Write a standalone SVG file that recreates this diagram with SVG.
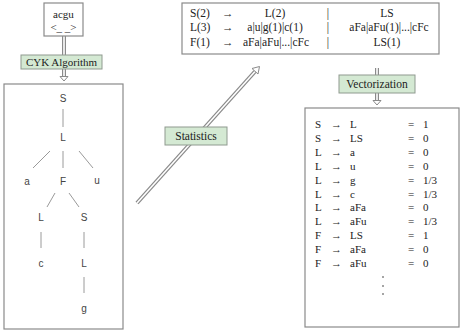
<svg xmlns="http://www.w3.org/2000/svg" width="463" height="334" viewBox="0 0 463 334">
<style>
.box{fill:#fff;stroke:#8a8a8a;stroke-width:1.2}
.lab{fill:#d4e9d3;stroke:#8f9a8f;stroke-width:1}
.t{font-family:"Liberation Serif","Times New Roman",serif;font-size:11px;fill:#222}
.tr{font-family:"Liberation Sans",Arial,sans-serif;font-size:10px;fill:#444;text-anchor:middle}
.m{text-anchor:middle}
.edge{stroke:#9a9a9a;stroke-width:1}
.outer{fill:none;stroke:#8a8a8a;stroke-width:4}
.inner{fill:none;stroke:#fff;stroke-width:1.6}
.head{fill:#fff;stroke:#8a8a8a;stroke-width:1}
</style>
<rect width="463" height="334" fill="#fff"/>
<g id="connectors">
  <path class="outer" d="M64 36V55"/><path class="inner" d="M64 36V55"/>
  <path class="outer" d="M64 69V77"/><path class="inner" d="M64 69V77"/>
  <path class="head" d="M60 76.5L68 76.5L64 81Z"/>
  <path class="outer" d="M137 203L255 71.5"/><path class="inner" d="M137 203L255 71.5"/>
  <path class="head" d="M252 68.5L259.5 66.5L258 74Z"/>
  <path class="outer" d="M377 68V75"/><path class="inner" d="M377 68V75"/>
  <path class="outer" d="M377 93V101"/><path class="inner" d="M377 93V101"/>
  <path class="head" d="M373 100.5L381 100.5L377 105Z"/>
</g>
<g id="input">
  <rect class="box" x="44" y="3" width="39" height="33"/>
  <text class="t m" x="63.5" y="18">acgu</text>
  <text class="t m" x="63.5" y="31">&lt;_ _&gt;</text>
</g>
<g id="cyk">
  <rect class="lab" x="21" y="55" width="81" height="14"/>
  <text class="t m" x="61.5" y="66">CYK Algorithm</text>
</g>
<g id="tree">
  <rect class="box" x="4" y="84" width="119" height="245"/>
  <g class="edge">
    <line x1="63" y1="109" x2="63" y2="127"/>
    <line x1="50" y1="151" x2="33" y2="168"/>
    <line x1="63" y1="151" x2="63" y2="168"/>
    <line x1="79" y1="151" x2="93" y2="168"/>
    <line x1="55" y1="193" x2="47" y2="207"/>
    <line x1="69" y1="193" x2="79" y2="207"/>
    <line x1="41" y1="232" x2="41" y2="248"/>
    <line x1="84" y1="232" x2="84" y2="248"/>
    <line x1="84" y1="277" x2="84" y2="293"/>
  </g>
  <text class="tr" x="63" y="102">S</text>
  <text class="tr" x="63" y="141">L</text>
  <text class="tr" x="27" y="185">a</text>
  <text class="tr" x="63" y="185">F</text>
  <text class="tr" x="97" y="184">u</text>
  <text class="tr" x="41" y="221">L</text>
  <text class="tr" x="84" y="221">S</text>
  <text class="tr" x="41" y="267">c</text>
  <text class="tr" x="84" y="267">L</text>
  <text class="tr" x="84" y="312">g</text>
</g>
<g id="statistics">
  <rect class="lab" x="165" y="127" width="62" height="18"/>
  <text class="t m" x="196" y="140" style="font-size:11.5px">Statistics</text>
</g>
<g id="grammar">
  <rect class="box" x="182" y="3" width="257" height="51"/>
  <g class="t" style="font-size:11.5px">
    <text x="190" y="17">S(2)</text><text x="222" y="17">→</text><text class="m" x="275" y="17">L(2)</text><text class="m" x="328" y="17">|</text><text class="m" x="387" y="17">LS</text>
    <text x="190" y="31">L(3)</text><text x="222" y="31">→</text><text class="m" x="275" y="31">a|u|g(1)|c(1)</text><text class="m" x="328" y="31">|</text><text class="m" x="389" y="31">aFa|aFu(1)|...|cFc</text>
    <text x="190" y="46">F(1)</text><text x="222" y="46">→</text><text class="m" x="276" y="46">aFa|aFu|...|cFc</text><text class="m" x="328" y="46">|</text><text class="m" x="387" y="46">LS(1)</text>
  </g>
</g>
<g id="vectorization">
  <rect class="lab" x="339" y="75" width="76" height="18"/>
  <text class="t m" x="377" y="88" style="font-size:11.5px">Vectorization</text>
</g>
<g id="vector">
  <rect class="box" x="305" y="108" width="154" height="219"/>
  <g class="t">
    <text x="315" y="128">S</text><text x="331" y="128">→</text><text x="350" y="128">L</text><text x="408" y="128">=</text><text x="423" y="128">1</text>
    <text x="315" y="142">S</text><text x="331" y="142">→</text><text x="350" y="142">LS</text><text x="408" y="142">=</text><text x="423" y="142">0</text>
    <text x="315" y="156">L</text><text x="331" y="156">→</text><text x="350" y="156">a</text><text x="408" y="156">=</text><text x="423" y="156">0</text>
    <text x="315" y="170">L</text><text x="331" y="170">→</text><text x="350" y="170">u</text><text x="408" y="170">=</text><text x="423" y="170">0</text>
    <text x="315" y="184">L</text><text x="331" y="184">→</text><text x="350" y="184">g</text><text x="408" y="184">=</text><text x="423" y="184">1/3</text>
    <text x="315" y="198">L</text><text x="331" y="198">→</text><text x="350" y="198">c</text><text x="408" y="198">=</text><text x="423" y="198">1/3</text>
    <text x="315" y="211">L</text><text x="331" y="211">→</text><text x="350" y="211">aFa</text><text x="408" y="211">=</text><text x="423" y="211">0</text>
    <text x="315" y="225">L</text><text x="331" y="225">→</text><text x="350" y="225">aFu</text><text x="408" y="225">=</text><text x="423" y="225">1/3</text>
    <text x="315" y="239">F</text><text x="331" y="239">→</text><text x="350" y="239">LS</text><text x="408" y="239">=</text><text x="423" y="239">1</text>
    <text x="315" y="253">F</text><text x="331" y="253">→</text><text x="350" y="253">aFa</text><text x="408" y="253">=</text><text x="423" y="253">0</text>
    <text x="315" y="267">F</text><text x="331" y="267">→</text><text x="350" y="267">aFu</text><text x="408" y="267">=</text><text x="423" y="267">0</text>
  </g>
  <g fill="#333">
    <circle cx="383" cy="277" r="0.8"/>
    <circle cx="383" cy="286" r="0.8"/>
    <circle cx="383" cy="294" r="0.8"/>
  </g>
</g>
</svg>
